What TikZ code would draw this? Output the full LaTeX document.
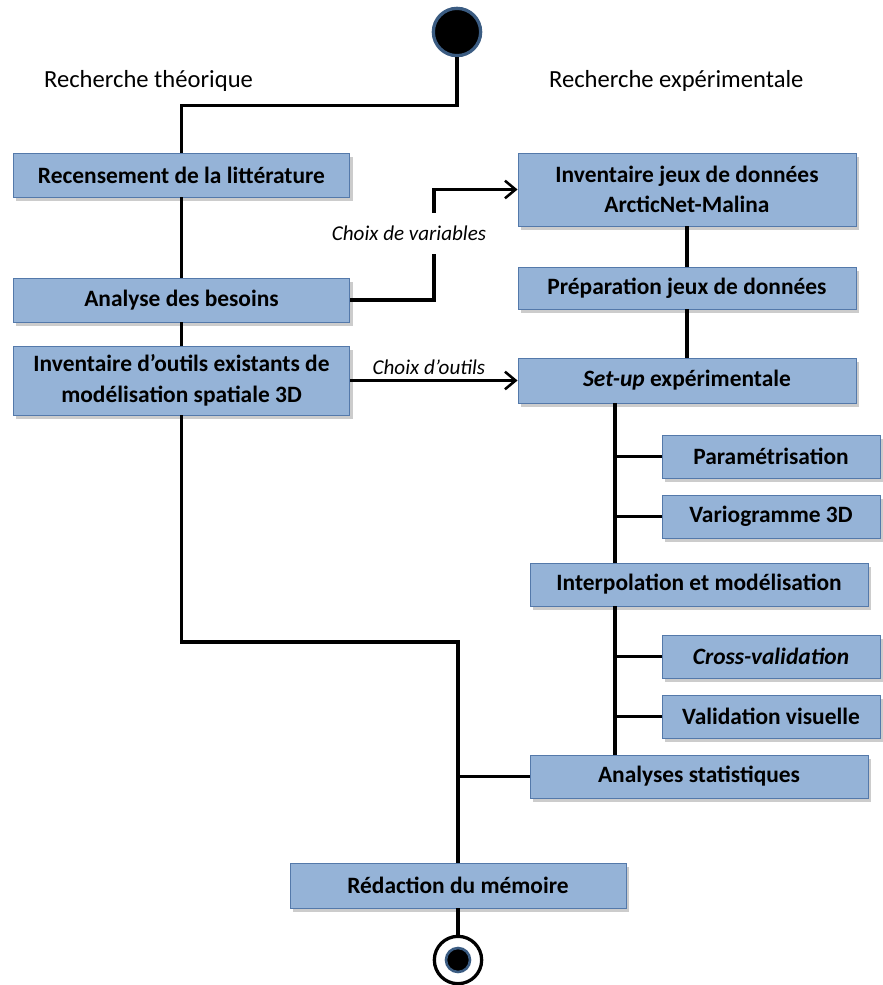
\documentclass[tikz,border=0pt]{standalone}
\usepackage{fontspec}
\setmainfont{Carlito}
\usepackage{xcolor}
\usetikzlibrary{arrows.meta,shadows}
\definecolor{boxfill}{HTML}{95B3D7}
\definecolor{boxline}{HTML}{5479AA}
\definecolor{ringblue}{HTML}{3B5C82}

\begin{document}
\begin{tikzpicture}[x=0.03cm,y=-0.03cm,
    box/.style={draw=boxline,fill=boxfill,line width=0.8pt,inner sep=2pt,align=center,
      minimum width=10.1cm,minimum height=1.32cm,
      font=\fontsize{20}{26}\selectfont\bfseries,
      drop shadow={shadow xshift=2.5pt,shadow yshift=-3.5pt,opacity=0.4}},
    subbox/.style={box,minimum width=6.54cm,minimum height=1.29cm},
    flow/.style={line width=2.6pt},
    pass/.style={flow,-{Straight Barb[length=9pt,width=15pt,line width=2.2pt]}},
    lane/.style={font=\fontsize{21}{25}\selectfont},
    choice/.style={font=\fontsize{18}{22}\selectfont\itshape}]
    \useasboundingbox (0,0) rectangle (882,985);

    \node[circle,fill=black,draw=ringblue,line width=2.8pt,minimum size=1.42cm,inner sep=0pt] (start) at (457,32) {};
    \node[lane,anchor=base west] (theo) at (40,88) {Recherche théorique};
    \node[lane,anchor=base west] (expe) at (545,88) {Recherche expérimentale};

    \node[box] (rec) at (181.5,175) {Recensement de la littérature};
    \node[box] (besoins) at (181.5,300) {Analyse des besoins};
    \node[box,minimum height=2.07cm] (outils) at (181.5,380.5) {Inventaire d’outils existants de\\modélisation spatiale 3D};

    \node[box,minimum width=10.14cm,minimum height=2.19cm] (jeux) at (687,189.5) {Inventaire jeux de données\\ArcticNet-Malina};
    \node[box,minimum width=10.14cm,minimum height=1.26cm] (prep) at (687,288) {Préparation jeux de données};
    \node[box,minimum width=10.14cm,minimum height=1.35cm] (setup) at (687,380.5) {\textit{Set-up} expérimentale};
    \node[subbox] (param) at (771,456.5) {Paramétrisation};
    \node[subbox] (vario) at (771,516.5) {Variogramme 3D};
    \node[box,minimum width=10.14cm,minimum height=1.29cm] (interp) at (699,584.5) {Interpolation et modélisation};
    \node[subbox] (cross) at (771,656.5) {\textit{Cross-validation}};
    \node[subbox] (valid) at (771,716.5) {Validation visuelle};
    \node[box,minimum width=10.14cm,minimum height=1.29cm] (anal) at (699,776.5) {Analyses statistiques};

    \node[box,minimum width=10.08cm,minimum height=1.35cm] (redac) at (458,885.5) {Rédaction du mémoire};
    \node[circle,fill=white,draw=black,line width=2.8pt,minimum size=1.42cm,inner sep=0pt] (stop) at (458,960) {};
    \node[circle,fill=black,draw=ringblue,line width=2.2pt,minimum size=0.72cm,inner sep=0pt] (stopin) at (stop.center) {};

    \coordinate (varbend) at (434,0);
    \coordinate (rtrunk) at (615,0);
    \coordinate (merge) at (458,642);

    \draw[flow] (start.south) |- ([yshift=1.41cm]rec.north) -- (rec.north);
    \draw[flow] (rec.south) -- (besoins.north);
    \draw[flow] (besoins.south) -- (outils.north);
    \draw[pass] (besoins.east) -| node[choice,pos=0.8,xshift=-0.75cm,fill=white,inner ysep=11pt] {Choix de variables} (varbend |- jeux.west) -- (jeux.west);
    \draw[pass] (outils.east) -- node[choice,above,pos=0.47] {Choix d’outils} (setup.west);
    \draw[flow] (jeux.south) -- (prep.north);
    \draw[flow] (prep.south) -- (setup.north);
    \draw[flow] (setup.south -| rtrunk) -- (interp.north -| rtrunk);
    \draw[flow] (interp.south -| rtrunk) -- (anal.north -| rtrunk);
    \foreach \b in {param,vario,cross,valid}
        \draw[flow] (\b.west -| rtrunk) -- (\b.west);
    \draw[flow] (outils.south) |- (merge) -- (redac.north);
    \draw[flow] (anal.west) -- (anal.west -| redac.north);
    \draw[flow] (redac.south) -- (stop.north);
\end{tikzpicture}
\end{document}
